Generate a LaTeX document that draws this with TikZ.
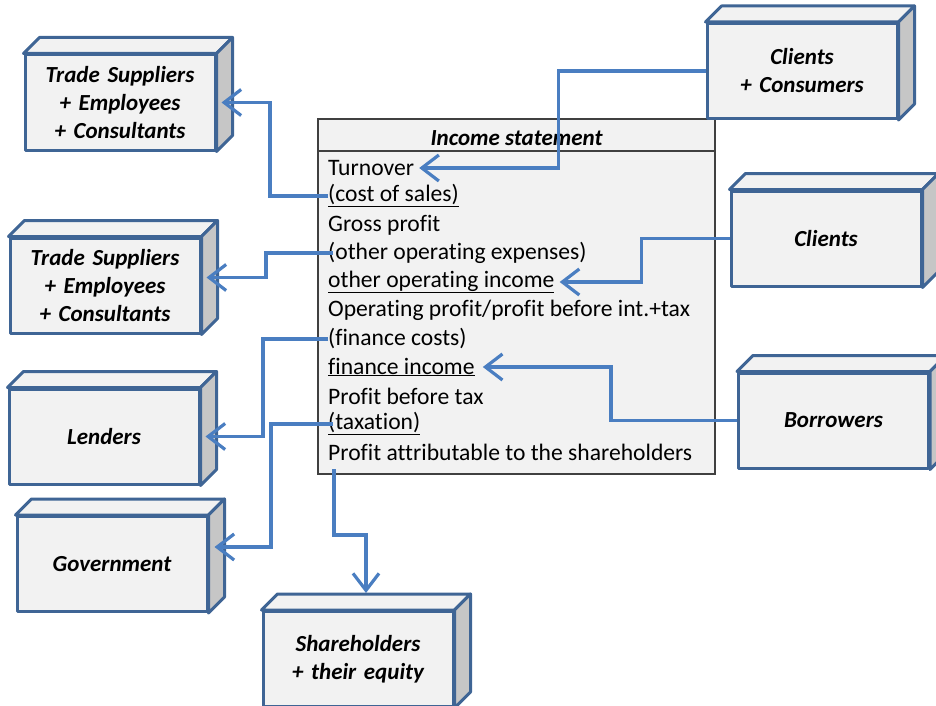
\documentclass[tikz,border=0pt]{standalone}
\usepackage{fontspec}
\setmainfont{Carlito}[Ligatures=NoCommon]
\usetikzlibrary{arrows.meta}
\definecolor{boxline}{RGB}{63,101,149}
\definecolor{boxfill}{RGB}{242,242,242}
\definecolor{boxside}{RGB}{198,198,198}
\definecolor{conncol}{RGB}{74,126,193}
\definecolor{stmtline}{RGB}{64,64,64}
\tikzset{
  frontface/.style={draw=boxline, fill=boxfill, line width=3pt, minimum width=190pt, minimum height=95pt, inner sep=0pt, align=center, text width=186pt, font=\fontsize{23}{28}\selectfont\bfseries\itshape, line join=round},
  topface/.style={draw=boxline, fill=boxfill, line width=3pt, line join=round},
  sideface/.style={draw=boxline, fill=boxside, line width=3pt, line join=round},
  stmtbox/.style={draw=stmtline, fill=boxfill, line width=1.6pt},
  stmtrow/.style={anchor=west, inner sep=0pt, font=\fontsize{23.6}{28}\selectfont},
  conn/.style={draw=conncol, line width=3.2pt, -{Straight Barb[length=17pt,width=26pt,line width=3.2pt]}},
}
\newcommand\cubebox[4]{%
  \node[frontface] (#1) at (#2,#3) {#4};
  \path[topface] (#1.north west) -- ++(16,-16) -- ([shift={(16,-16)}]#1.north east) -- (#1.north east) -- cycle;
  \path[sideface] (#1.north east) -- ++(16,-16) -- ([shift={(16,-16)}]#1.south east) -- (#1.south east) -- cycle;
}
\begin{document}
\begin{tikzpicture}[x=1pt,y=-1pt]
\useasboundingbox (0,0) rectangle (936,706);
% statement
\node[stmtbox, minimum width=397pt, minimum height=355pt, inner sep=0pt] (inc) at (516.5,296.5) {};
\draw[stmtline, line width=1.6pt] (318,151) -- (715,151);
\node[font=\fontsize{23}{28}\selectfont\bfseries\itshape, inner sep=0pt] (title) at (516.5,138) {Income statement};
\node[stmtrow] (turn) at (328,168) {Turnover};
\node[stmtrow] (cos) at (328,196) {\underline{(cost of sales)}};
\node[stmtrow] (gp) at (328,225) {Gross profit};
\node[stmtrow] (ooe) at (328,253) {(other operating expenses)};
\node[stmtrow] (ooi) at (328,282) {\underline{other operating income}};
\node[stmtrow] (op) at (328,310) {Operating profit/profit before int.+tax};
\node[stmtrow] (fc) at (328,339) {(finance costs)};
\node[stmtrow] (fi) at (328,367) {\underline{finance income}};
\node[stmtrow] (pbt) at (328,396) {Profit before tax};
\node[stmtrow] (tax) at (328,424) {\underline{(taxation)}};
\node[stmtrow] (pa) at (328,452) {Profit attributable to the shareholders};
\coordinate (pastart) at (334,469);
% boxes
\cubebox{tsA}{120}{102.5}{Trade Suppliers\\+ Employees\\+ Consultants}
\cubebox{tsB}{105}{285.5}{Trade Suppliers\\+ Employees\\+ Consultants}
\cubebox{cc}{802}{71}{Clients\\+ Consumers}
\cubebox{cl}{826}{238.5}{Clients}
\cubebox{bo}{833.5}{420.5}{Borrowers}
\cubebox{le}{104}{436.5}{Lenders}
\cubebox{go}{112}{564}{Government}
\cubebox{sh}{358}{659}{Shareholders\\+ their equity}
% connectors
\draw[conn] (cc.west) -- ++(-147,0) |- ([xshift=5pt]turn.east);
\draw[conn] (cos.west) -- ++(-58,0) |- ([xshift=5pt]tsA.east);
\draw[conn] ([xshift=5pt]ooe.west) -- ++(-67,0) |- ([shift={(5,-8)}]tsB.east);
\draw[conn] (cl.west) -- ++(-88,0) |- ([xshift=5pt]ooi.east);
\draw[conn] (fc.west) -- ++(-65,0) |- ([xshift=5pt]le.east);
\draw[conn] (bo.west) -- ++(-126,0) |- ([xshift=8pt]fi.east);
\draw[conn] ([xshift=5pt]tax.west) -- ++(-62,0) |- ([shift={(6,-17)}]go.east);
\draw[conn] (pastart) -- ++(0,66) -| ([shift={(8,-17)}]sh.north);
\end{tikzpicture}
\end{document}
